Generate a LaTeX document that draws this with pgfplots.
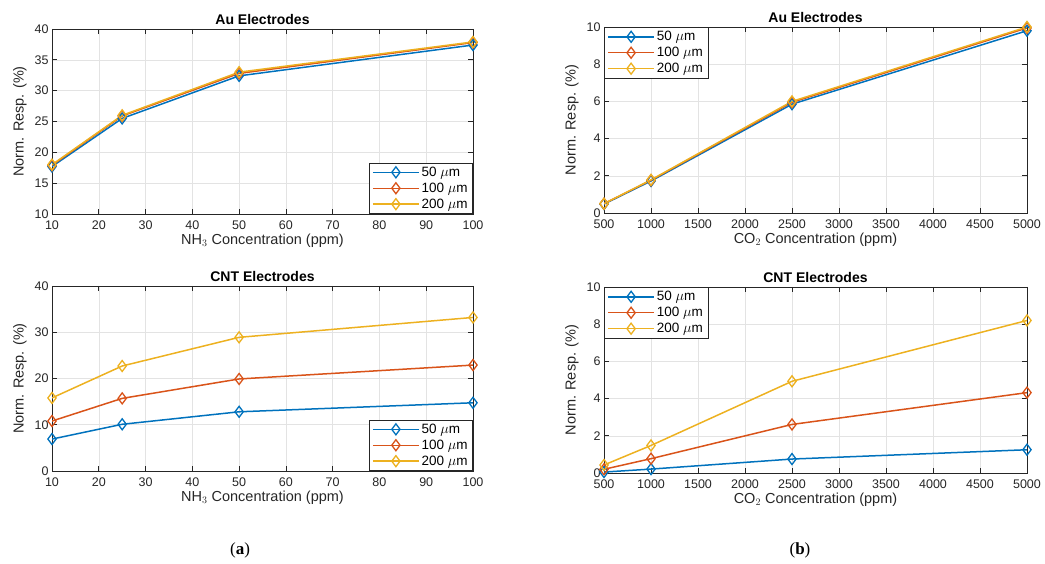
\documentclass[border=0pt]{standalone}
\usepackage{fontspec}
\setmainfont{Liberation Sans}
\newfontfamily\capfont{Liberation Serif}
\usepackage{pgfplots}
\pgfplotsset{compat=1.18}
\definecolor{mblue}{rgb}{0,0.447,0.741}
\definecolor{mred}{rgb}{0.85,0.325,0.098}
\definecolor{myel}{rgb}{0.929,0.694,0.125}
\definecolor{axgray}{rgb}{0.15,0.15,0.15}
\pgfplotsset{
  mstyle/.style={
    scale only axis,
    anchor=south west,
    axis line style={axgray, line width=0.7pt},
    tick style={axgray, line width=0.7pt},
    major tick length=5pt,
    tick align=inside,
    tick pos=both,
    grid=major,
    grid style={gray!22, line width=0.5pt},
    font=\fontsize{12.5}{14}\selectfont,
    tick label style={text=axgray, font=\fontsize{12.5}{14}\selectfont},
    xticklabel style={yshift=-3pt},
    label style={text=axgray, font=\fontsize{14.5}{16}\selectfont},
    xlabel style={yshift=2pt},
    ylabel style={yshift=1pt},
    title style={font=\fontsize{14}{16}\selectfont\bfseries, yshift=-5pt},
    /pgf/number format/assume math mode=true,
    /pgf/number format/1000 sep={},
    scaled ticks=false,
    ylabel={Norm. Resp. (\%)},
    legend cell align=left,
    legend style={draw=axgray, line width=0.7pt, font=\fontsize{13.5}{15}\selectfont, inner xsep=3pt, inner ysep=2pt, row sep=1pt},
    legend image code/.code={\draw[line width=1.5pt, mark options={solid, line width=1.3pt}, mark repeat=2, mark phase=2] plot coordinates {(0pt,0pt) (23pt,0pt) (46pt,0pt)};},
  },
  legSE/.style={legend style={at={(1,0)}, anchor=south east}},
  legNW/.style={legend style={at={(0,1)}, anchor=north west}},
  mp/.style={#1, line width=1.5pt, mark=diamond, mark size=5.5pt, mark options={solid, line width=1.3pt}},
  nh3/.style={xmin=10, xmax=100, xtick={10,20,...,100}, xlabel={NH$_3$ Concentration (ppm)}},
  co2/.style={xmin=500, xmax=5000, xtick={500,1000,...,5000}, xlabel={CO$_2$ Concentration (ppm)}},
}
\begin{document}
\begin{tikzpicture}
\useasboundingbox (0pt,0pt) rectangle (1045pt,564pt);
% (a) top: Au NH3
\begin{axis}[mstyle, nh3, legSE, at={(52pt,350pt)}, width=421pt, height=185pt,
  ymin=10, ymax=40, ytick={10,15,...,40}, title={Au Electrodes}]
\addplot[mp=mblue] coordinates {(10,17.7) (25,25.5) (50,32.4) (100,37.4)};
\addplot[mp=mred] coordinates {(10,17.9) (25,25.9) (50,32.8) (100,37.8)};
\addplot[mp=myel] coordinates {(10,18.0) (25,26.0) (50,33.0) (100,37.9)};
\legend{50 $\mu$m, 100 $\mu$m, 200 $\mu$m}
\end{axis}
% (b) top: Au CO2
\begin{axis}[mstyle, co2, legNW, at={(604pt,351pt)}, width=423pt, height=186pt,
  ymin=0, ymax=10, ytick={0,2,...,10}, title={Au Electrodes}]
\addplot[mp=mblue] coordinates {(500,0.48) (1000,1.72) (2500,5.85) (5000,9.8)};
\addplot[mp=mred] coordinates {(500,0.5) (1000,1.76) (2500,5.95) (5000,9.95)};
\addplot[mp=myel] coordinates {(500,0.5) (1000,1.78) (2500,6.0) (5000,10.0)};
\legend{50 $\mu$m, 100 $\mu$m, 200 $\mu$m}
\end{axis}
% (a) bottom: CNT NH3
\begin{axis}[mstyle, nh3, legSE, at={(52pt,93pt)}, width=421pt, height=185pt,
  ymin=0, ymax=40, ytick={0,10,...,40}, title={CNT Electrodes}]
\addplot[mp=mblue] coordinates {(10,6.9) (25,10.1) (50,12.8) (100,14.75)};
\addplot[mp=mred] coordinates {(10,10.8) (25,15.7) (50,19.9) (100,22.9)};
\addplot[mp=myel] coordinates {(10,15.8) (25,22.7) (50,28.9) (100,33.2)};
\legend{50 $\mu$m, 100 $\mu$m, 200 $\mu$m}
\end{axis}
% (b) bottom: CNT CO2
\begin{axis}[mstyle, co2, legNW, at={(604pt,91pt)}, width=423pt, height=186pt,
  ymin=0, ymax=10, ytick={0,2,...,10}, title={CNT Electrodes}]
\addplot[mp=mblue] coordinates {(500,0.05) (1000,0.21) (2500,0.75) (5000,1.25)};
\addplot[mp=mred] coordinates {(500,0.2) (1000,0.77) (2500,2.61) (5000,4.32)};
\addplot[mp=myel] coordinates {(500,0.43) (1000,1.48) (2500,4.93) (5000,8.2)};
\legend{50 $\mu$m, 100 $\mu$m, 200 $\mu$m}
\end{axis}
\node[font=\capfont\fontsize{17}{19}\selectfont] at (240pt,14pt) {(\textbf{a})};
\node[font=\capfont\fontsize{17}{19}\selectfont] at (800pt,14pt) {(\textbf{b})};
\end{tikzpicture}
\end{document}
